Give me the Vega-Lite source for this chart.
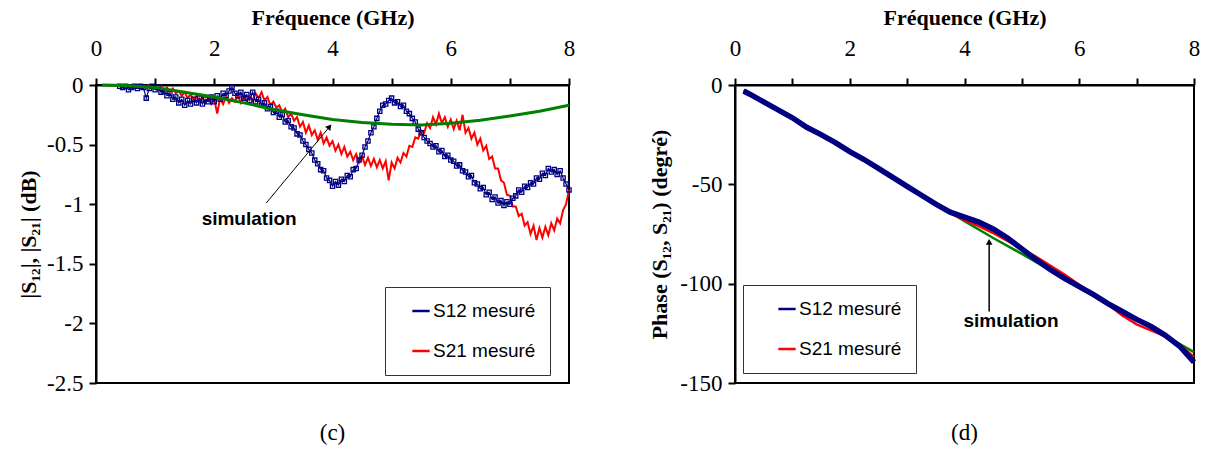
{
"$schema": "https://vega.github.io/schema/vega-lite/v6.json",
"background": "white",
"padding": {"left": 16, "top": 5, "right": 5, "bottom": 5},
"datasets": {
"c12": [{"f":0.40,"v":-0.01},{"f":0.45,"v":-0.02},{"f":0.50,"v":-0.01},{"f":0.55,"v":-0.04},{"f":0.60,"v":-0.02},{"f":0.65,"v":-0.01},{"f":0.70,"v":-0.03},{"f":0.75,"v":-0.01},{"f":0.80,"v":-0.02},{"f":0.85,"v":-0.11},{"f":0.90,"v":-0.03},{"f":0.95,"v":-0.01},{"f":1.00,"v":-0.04},{"f":1.05,"v":-0.02},{"f":1.10,"v":-0.06},{"f":1.15,"v":-0.05},{"f":1.20,"v":-0.09},{"f":1.25,"v":-0.07},{"f":1.30,"v":-0.12},{"f":1.35,"v":-0.10},{"f":1.40,"v":-0.15},{"f":1.45,"v":-0.12},{"f":1.50,"v":-0.17},{"f":1.55,"v":-0.13},{"f":1.60,"v":-0.16},{"f":1.65,"v":-0.12},{"f":1.70,"v":-0.15},{"f":1.75,"v":-0.11},{"f":1.80,"v":-0.16},{"f":1.85,"v":-0.12},{"f":1.90,"v":-0.14},{"f":1.95,"v":-0.10},{"f":2.00,"v":-0.14},{"f":2.05,"v":-0.09},{"f":2.10,"v":-0.12},{"f":2.15,"v":-0.07},{"f":2.20,"v":-0.09},{"f":2.25,"v":-0.05},{"f":2.30,"v":-0.02},{"f":2.35,"v":-0.07},{"f":2.40,"v":-0.09},{"f":2.45,"v":-0.06},{"f":2.50,"v":-0.11},{"f":2.55,"v":-0.08},{"f":2.60,"v":-0.13},{"f":2.65,"v":-0.06},{"f":2.70,"v":-0.14},{"f":2.75,"v":-0.12},{"f":2.80,"v":-0.17},{"f":2.85,"v":-0.15},{"f":2.90,"v":-0.20},{"f":2.95,"v":-0.18},{"f":3.00,"v":-0.23},{"f":3.05,"v":-0.22},{"f":3.10,"v":-0.27},{"f":3.15,"v":-0.25},{"f":3.20,"v":-0.31},{"f":3.25,"v":-0.30},{"f":3.30,"v":-0.35},{"f":3.35,"v":-0.36},{"f":3.40,"v":-0.41},{"f":3.45,"v":-0.42},{"f":3.50,"v":-0.47},{"f":3.55,"v":-0.50},{"f":3.60,"v":-0.54},{"f":3.65,"v":-0.57},{"f":3.70,"v":-0.63},{"f":3.75,"v":-0.66},{"f":3.80,"v":-0.71},{"f":3.85,"v":-0.72},{"f":3.90,"v":-0.78},{"f":3.95,"v":-0.80},{"f":4.00,"v":-0.85},{"f":4.05,"v":-0.81},{"f":4.10,"v":-0.84},{"f":4.15,"v":-0.79},{"f":4.20,"v":-0.81},{"f":4.25,"v":-0.76},{"f":4.30,"v":-0.77},{"f":4.35,"v":-0.71},{"f":4.40,"v":-0.70},{"f":4.45,"v":-0.63},{"f":4.50,"v":-0.59},{"f":4.55,"v":-0.52},{"f":4.60,"v":-0.47},{"f":4.65,"v":-0.40},{"f":4.70,"v":-0.35},{"f":4.75,"v":-0.28},{"f":4.80,"v":-0.22},{"f":4.85,"v":-0.17},{"f":4.90,"v":-0.16},{"f":4.95,"v":-0.13},{"f":5.00,"v":-0.11},{"f":5.05,"v":-0.15},{"f":5.10,"v":-0.14},{"f":5.15,"v":-0.18},{"f":5.20,"v":-0.17},{"f":5.25,"v":-0.22},{"f":5.30,"v":-0.24},{"f":5.35,"v":-0.28},{"f":5.40,"v":-0.31},{"f":5.45,"v":-0.37},{"f":5.50,"v":-0.40},{"f":5.55,"v":-0.44},{"f":5.60,"v":-0.47},{"f":5.65,"v":-0.49},{"f":5.70,"v":-0.52},{"f":5.75,"v":-0.51},{"f":5.80,"v":-0.56},{"f":5.85,"v":-0.55},{"f":5.90,"v":-0.60},{"f":5.95,"v":-0.59},{"f":6.00,"v":-0.63},{"f":6.05,"v":-0.64},{"f":6.10,"v":-0.68},{"f":6.15,"v":-0.67},{"f":6.20,"v":-0.72},{"f":6.25,"v":-0.73},{"f":6.30,"v":-0.77},{"f":6.35,"v":-0.76},{"f":6.40,"v":-0.82},{"f":6.45,"v":-0.83},{"f":6.50,"v":-0.87},{"f":6.55,"v":-0.86},{"f":6.60,"v":-0.92},{"f":6.65,"v":-0.90},{"f":6.70,"v":-0.96},{"f":6.75,"v":-0.94},{"f":6.80,"v":-0.99},{"f":6.85,"v":-0.97},{"f":6.90,"v":-1.01},{"f":6.95,"v":-0.98},{"f":7.00,"v":-1.00},{"f":7.05,"v":-0.95},{"f":7.10,"v":-0.93},{"f":7.15,"v":-0.88},{"f":7.20,"v":-0.90},{"f":7.25,"v":-0.85},{"f":7.30,"v":-0.86},{"f":7.35,"v":-0.82},{"f":7.40,"v":-0.83},{"f":7.45,"v":-0.78},{"f":7.50,"v":-0.79},{"f":7.55,"v":-0.74},{"f":7.60,"v":-0.76},{"f":7.65,"v":-0.70},{"f":7.70,"v":-0.73},{"f":7.75,"v":-0.71},{"f":7.80,"v":-0.75},{"f":7.85,"v":-0.72},{"f":7.90,"v":-0.78},{"f":7.95,"v":-0.83},{"f":8.00,"v":-0.88}],
"c21": [{"f":0.50,"v":-0.01},{"f":0.55,"v":0.00},{"f":0.60,"v":-0.02},{"f":0.65,"v":-0.01},{"f":0.70,"v":-0.01},{"f":0.75,"v":-0.03},{"f":0.80,"v":-0.01},{"f":0.85,"v":-0.02},{"f":0.90,"v":0.00},{"f":0.95,"v":-0.03},{"f":1.00,"v":-0.02},{"f":1.05,"v":-0.04},{"f":1.10,"v":-0.01},{"f":1.15,"v":-0.05},{"f":1.20,"v":-0.02},{"f":1.25,"v":-0.06},{"f":1.30,"v":-0.03},{"f":1.35,"v":-0.07},{"f":1.40,"v":-0.05},{"f":1.45,"v":-0.09},{"f":1.50,"v":-0.06},{"f":1.55,"v":-0.11},{"f":1.60,"v":-0.08},{"f":1.65,"v":-0.12},{"f":1.70,"v":-0.09},{"f":1.75,"v":-0.14},{"f":1.80,"v":-0.10},{"f":1.85,"v":-0.15},{"f":1.90,"v":-0.11},{"f":1.95,"v":-0.16},{"f":2.00,"v":-0.12},{"f":2.05,"v":-0.24},{"f":2.10,"v":-0.11},{"f":2.15,"v":-0.16},{"f":2.20,"v":-0.10},{"f":2.25,"v":-0.15},{"f":2.30,"v":-0.11},{"f":2.35,"v":-0.14},{"f":2.40,"v":-0.09},{"f":2.45,"v":-0.15},{"f":2.50,"v":-0.10},{"f":2.55,"v":-0.14},{"f":2.60,"v":-0.09},{"f":2.65,"v":-0.13},{"f":2.70,"v":-0.07},{"f":2.75,"v":-0.11},{"f":2.80,"v":-0.06},{"f":2.85,"v":-0.13},{"f":2.90,"v":-0.10},{"f":2.95,"v":-0.17},{"f":3.00,"v":-0.14},{"f":3.05,"v":-0.19},{"f":3.10,"v":-0.17},{"f":3.15,"v":-0.23},{"f":3.20,"v":-0.20},{"f":3.25,"v":-0.27},{"f":3.30,"v":-0.24},{"f":3.35,"v":-0.30},{"f":3.40,"v":-0.27},{"f":3.45,"v":-0.35},{"f":3.50,"v":-0.31},{"f":3.55,"v":-0.40},{"f":3.60,"v":-0.34},{"f":3.65,"v":-0.42},{"f":3.70,"v":-0.38},{"f":3.75,"v":-0.46},{"f":3.80,"v":-0.40},{"f":3.85,"v":-0.49},{"f":3.90,"v":-0.44},{"f":3.95,"v":-0.51},{"f":4.00,"v":-0.47},{"f":4.05,"v":-0.55},{"f":4.10,"v":-0.50},{"f":4.15,"v":-0.58},{"f":4.20,"v":-0.52},{"f":4.25,"v":-0.60},{"f":4.30,"v":-0.56},{"f":4.35,"v":-0.63},{"f":4.40,"v":-0.58},{"f":4.45,"v":-0.65},{"f":4.50,"v":-0.60},{"f":4.55,"v":-0.67},{"f":4.60,"v":-0.61},{"f":4.65,"v":-0.68},{"f":4.70,"v":-0.62},{"f":4.75,"v":-0.69},{"f":4.80,"v":-0.63},{"f":4.85,"v":-0.70},{"f":4.90,"v":-0.64},{"f":4.95,"v":-0.80},{"f":5.00,"v":-0.65},{"f":5.05,"v":-0.70},{"f":5.10,"v":-0.61},{"f":5.15,"v":-0.65},{"f":5.20,"v":-0.57},{"f":5.25,"v":-0.60},{"f":5.30,"v":-0.51},{"f":5.35,"v":-0.52},{"f":5.40,"v":-0.44},{"f":5.45,"v":-0.45},{"f":5.50,"v":-0.38},{"f":5.55,"v":-0.40},{"f":5.60,"v":-0.32},{"f":5.65,"v":-0.36},{"f":5.70,"v":-0.27},{"f":5.75,"v":-0.33},{"f":5.80,"v":-0.24},{"f":5.85,"v":-0.32},{"f":5.90,"v":-0.27},{"f":5.95,"v":-0.35},{"f":6.00,"v":-0.29},{"f":6.05,"v":-0.37},{"f":6.10,"v":-0.30},{"f":6.15,"v":-0.38},{"f":6.20,"v":-0.25},{"f":6.25,"v":-0.40},{"f":6.30,"v":-0.36},{"f":6.35,"v":-0.45},{"f":6.40,"v":-0.40},{"f":6.45,"v":-0.50},{"f":6.50,"v":-0.45},{"f":6.55,"v":-0.55},{"f":6.60,"v":-0.51},{"f":6.65,"v":-0.62},{"f":6.70,"v":-0.60},{"f":6.75,"v":-0.70},{"f":6.80,"v":-0.70},{"f":6.85,"v":-0.80},{"f":6.90,"v":-0.82},{"f":6.95,"v":-0.92},{"f":7.00,"v":-0.93},{"f":7.05,"v":-1.02},{"f":7.10,"v":-1.02},{"f":7.15,"v":-1.10},{"f":7.20,"v":-1.08},{"f":7.25,"v":-1.18},{"f":7.30,"v":-1.15},{"f":7.35,"v":-1.25},{"f":7.40,"v":-1.18},{"f":7.45,"v":-1.30},{"f":7.50,"v":-1.20},{"f":7.55,"v":-1.28},{"f":7.60,"v":-1.19},{"f":7.65,"v":-1.26},{"f":7.70,"v":-1.16},{"f":7.75,"v":-1.22},{"f":7.80,"v":-1.12},{"f":7.85,"v":-1.16},{"f":7.90,"v":-1.05},{"f":7.95,"v":-1.00},{"f":8.00,"v":-0.88}],
"csim": [{"f":0.1,"v":0},{"f":0.5,"v":-0.005},{"f":1.0,"v":-0.02},{"f":1.5,"v":-0.06},{"f":2.0,"v":-0.1},{"f":2.5,"v":-0.15},{"f":3.0,"v":-0.205},{"f":3.5,"v":-0.25},{"f":4.0,"v":-0.29},{"f":4.5,"v":-0.315},{"f":5.0,"v":-0.33},{"f":5.5,"v":-0.335},{"f":6.0,"v":-0.32},{"f":6.5,"v":-0.295},{"f":7.0,"v":-0.26},{"f":7.5,"v":-0.22},{"f":8.0,"v":-0.17}],
"carrow": [{"f":2.88,"v":-0.99,"f2":3.95,"v2":-0.35}],
"ctext": [{"f":2.59,"v":-1.12,"t":"simulation"}],
"d12": [{"f":0.15,"v":-3},{"f":0.25,"v":-4.5},{"f":0.5,"v":-8.5},{"f":0.75,"v":-12.5},{"f":1.0,"v":-16.5},{"f":1.25,"v":-21.3},{"f":1.5,"v":-25},{"f":1.75,"v":-29},{"f":2.0,"v":-33.5},{"f":2.25,"v":-37.5},{"f":2.5,"v":-42},{"f":2.75,"v":-46.5},{"f":3.0,"v":-51},{"f":3.25,"v":-55.5},{"f":3.5,"v":-60},{"f":3.75,"v":-64},{"f":4.0,"v":-66.5},{"f":4.25,"v":-69},{"f":4.5,"v":-72.5},{"f":4.75,"v":-77},{"f":5.0,"v":-82.5},{"f":5.25,"v":-88},{"f":5.5,"v":-93},{"f":5.75,"v":-97.5},{"f":6.0,"v":-101.5},{"f":6.25,"v":-105.5},{"f":6.5,"v":-110},{"f":6.75,"v":-114},{"f":7.0,"v":-118},{"f":7.25,"v":-121.5},{"f":7.5,"v":-126},{"f":7.75,"v":-131.5},{"f":8.0,"v":-139.5}],
"d21": [{"f":0.15,"v":-3},{"f":0.5,"v":-8.5},{"f":1.0,"v":-16.8},{"f":1.5,"v":-25.3},{"f":2.0,"v":-33.8},{"f":2.5,"v":-42.3},{"f":3.0,"v":-51},{"f":3.5,"v":-60},{"f":3.75,"v":-64.5},{"f":4.0,"v":-68},{"f":4.25,"v":-71},{"f":4.5,"v":-74.5},{"f":4.75,"v":-78.5},{"f":5.0,"v":-82.5},{"f":5.25,"v":-86.5},{"f":5.5,"v":-91},{"f":5.75,"v":-95.5},{"f":6.0,"v":-100.5},{"f":6.25,"v":-105.5},{"f":6.5,"v":-110.5},{"f":6.75,"v":-116},{"f":7.0,"v":-120.5},{"f":7.25,"v":-123.5},{"f":7.5,"v":-126.5},{"f":7.75,"v":-130.5},{"f":8.0,"v":-137}],
"dsim": [{"f":0.15,"v":-2.5},{"f":1.0,"v":-17},{"f":2.0,"v":-34},{"f":3.0,"v":-51},{"f":3.5,"v":-59.7},{"f":4.0,"v":-68.5},{"f":4.5,"v":-77},{"f":5.0,"v":-85},{"f":5.5,"v":-93.3},{"f":6.0,"v":-101.5},{"f":6.5,"v":-109.8},{"f":7.0,"v":-118},{"f":7.5,"v":-126.2},{"f":8.0,"v":-134.5}],
"darrow": [{"f":4.43,"v":-114,"f2":4.43,"v2":-79}],
"dtext": [{"f":4.81,"v":-119,"t":"simulation"}]
},
"hconcat": [
{
"width": 473, "height": 298,
"title": {"text": "(c)", "orient": "bottom", "offset": 27, "font": "Liberation Serif", "fontSize": 23, "fontWeight": "normal", "color": "black", "anchor": "middle", "baseline": "top"},
"encoding": {
"x": {"field": "f", "type": "quantitative", "scale": {"domain": [0, 8], "nice": false},
  "axis": {"orient": "top", "title": "Fréquence (GHz)", "values": [0,1,2,3,4,5,6,7,8], "labelExpr": "datum.value % 2 === 0 ? toString(datum.value) : ''", "labelPadding": 18, "titlePadding": 8}},
"y": {"field": "v", "type": "quantitative", "scale": {"domain": [-2.5, 0], "nice": false},
  "axis": {"title": "|S₁₂|, |S₂₁| (dB)", "values": [-2.5,-2,-1.5,-1,-0.5,0], "labelExpr": "toString(datum.value)", "labelPadding": 6, "titlePadding": 6}}
},
"layer": [
{"data": {"name": "c21"}, "mark": {"type": "line", "strokeWidth": 2},
 "encoding": {"color": {"datum": "S21 mesuré", "scale": {"domain": ["S12 mesuré", "S21 mesuré"], "range": ["#000080", "#FF0000"]},
   "legend": {"orient": "none", "legendX": 289, "legendY": 202, "title": null, "symbolType": "stroke", "symbolSize": 300, "symbolStrokeWidth": 2.5, "labelFont": "Liberation Sans", "labelFontSize": 19, "labelColor": "black", "strokeColor": "#333", "fillColor": "white", "padding": 14, "rowPadding": 20, "symbolOffset": 12, "labelOffset": 2}}}},
{"data": {"name": "c12"}, "mark": {"type": "line", "strokeWidth": 1.2, "point": {"shape": "square", "filled": false, "size": 18, "strokeWidth": 1.3}},
 "encoding": {"color": {"datum": "S12 mesuré"}}},
{"data": {"name": "csim"}, "mark": {"type": "line", "color": "#008000", "strokeWidth": 3}},
{"data": {"name": "carrow"}, "mark": {"type": "rule", "color": "black", "strokeWidth": 1},
 "encoding": {"x2": {"field": "f2"}, "y2": {"field": "v2"}}},
{"data": {"name": "carrow"}, "mark": {"type": "point", "shape": "triangle-up", "filled": true, "color": "black", "size": 45, "angle": 39, "opacity": 1},
 "encoding": {"x": {"field": "f2", "type": "quantitative"}, "y": {"field": "v2", "type": "quantitative"}}},
{"data": {"name": "ctext"}, "mark": {"type": "text", "font": "Liberation Sans", "fontWeight": "bold", "fontSize": 19, "color": "black"},
 "encoding": {"text": {"field": "t"}}}
]
},
{
"width": 459, "height": 298,
"title": {"text": "(d)", "orient": "bottom", "offset": 27, "font": "Liberation Serif", "fontSize": 23, "fontWeight": "normal", "color": "black", "anchor": "middle", "baseline": "top"},
"encoding": {
"x": {"field": "f", "type": "quantitative", "scale": {"domain": [0, 8], "nice": false},
  "axis": {"orient": "top", "title": "Fréquence (GHz)", "values": [0,1,2,3,4,5,6,7,8], "labelExpr": "datum.value % 2 === 0 ? toString(datum.value) : ''", "labelPadding": 18, "titlePadding": 8}},
"y": {"field": "v", "type": "quantitative", "scale": {"domain": [-150, 0], "nice": false},
  "axis": {"title": "Phase (S₁₂, S₂₁) (degré)", "values": [-150,-100,-50,0], "labelExpr": "toString(datum.value)", "labelPadding": 6, "titlePadding": 8}}
},
"layer": [
{"data": {"name": "dsim"}, "mark": {"type": "line", "color": "#008000", "strokeWidth": 2.5}},
{"data": {"name": "d21"}, "mark": {"type": "line", "strokeWidth": 2.5},
 "encoding": {"color": {"datum": "S21 mesuré", "scale": {"domain": ["S12 mesuré", "S21 mesuré"], "range": ["#000080", "#FF0000"]},
   "legend": {"orient": "none", "legendX": 8, "legendY": 200, "title": null, "symbolType": "stroke", "symbolSize": 300, "symbolStrokeWidth": 2.5, "labelFont": "Liberation Sans", "labelFontSize": 19, "labelColor": "black", "strokeColor": "#333", "fillColor": "white", "padding": 14, "rowPadding": 20, "symbolOffset": 20, "labelOffset": 2}}}},
{"data": {"name": "d12"}, "mark": {"type": "line", "strokeWidth": 5.5},
 "encoding": {"color": {"datum": "S12 mesuré"}}},
{"data": {"name": "darrow"}, "mark": {"type": "rule", "color": "black", "strokeWidth": 1.5},
 "encoding": {"x2": {"field": "f2"}, "y2": {"field": "v2"}}},
{"data": {"name": "darrow"}, "mark": {"type": "point", "shape": "triangle-up", "filled": true, "color": "black", "size": 45, "opacity": 1},
 "encoding": {"x": {"field": "f2", "type": "quantitative"}, "y": {"field": "v2", "type": "quantitative"}}},
{"data": {"name": "dtext"}, "mark": {"type": "text", "font": "Liberation Sans", "fontWeight": "bold", "fontSize": 19, "color": "black"},
 "encoding": {"text": {"field": "t"}}}
]
}
],
"spacing": 166,
"bounds": "flush",
"resolve": {"scale": {"color": "independent"}, "legend": {"color": "independent"}},
"config": {
"view": {"stroke": "black", "strokeWidth": 2},
"axis": {"grid": false, "labelFont": "Liberation Serif", "labelFontSize": 23, "labelColor": "black", "titleFont": "Liberation Serif", "titleFontSize": 22, "titleFontWeight": "bold", "titleColor": "black", "domainColor": "black", "domainWidth": 2, "tickColor": "black", "tickWidth": 2, "tickSize": 7, "labelFlush": false, "labelOverlap": false}
}
}
